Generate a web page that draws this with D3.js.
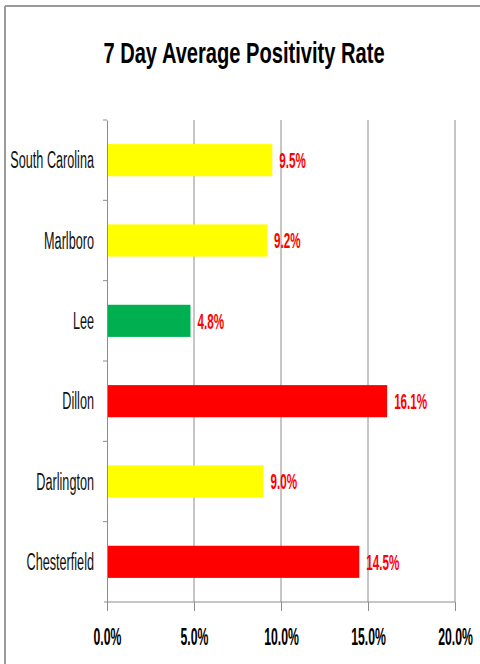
<!DOCTYPE html>
<html>
<head>
<meta charset="utf-8">
<script src="https://cdnjs.cloudflare.com/ajax/libs/d3/7.8.5/d3.min.js"></script>
<style>
  body { margin: 0; background: #fff; }
  svg text { font-family: "Liberation Sans", Arial, sans-serif; }
</style>
</head>
<body>
<div id="chart"></div>
<script>
// data
var counties = ["South Carolina", "Marlboro", "Lee", "Dillon", "Darlington", "Chesterfield"];
var rates = [9.5, 9.2, 4.8, 16.1, 9.0, 14.5];
var barColors = ["#ffff00", "#ffff00", "#00b050", "#ff0000", "#ffff00", "#ff0000"];
var xTicks = [0, 5, 10, 15, 20];

var W = 480, H = 664;
var margin = {top: 120, right: 25, bottom: 62, left: 107},
    width = W - margin.left - margin.right,
    height = H - margin.top - margin.bottom;

// the original picture is squeezed sideways, so texts get narrowed
function squash(sel, k) {
    sel.each(function() {
        var len = this.getComputedTextLength();
        d3.select(this)
            .attr("textLength", len * k)
            .attr("lengthAdjust", "spacingAndGlyphs");
    });
}

var svg = d3.select("#chart").append("svg")
    .attr("width", W)
    .attr("height", H);

// outer frame (only top and left edges are visible in the shot)
svg.append("line").attr("x1", 5).attr("y1", 6).attr("x2", W).attr("y2", 6)
    .attr("stroke", "#9a9a9a").attr("stroke-width", 2);
svg.append("line").attr("x1", 5).attr("y1", 6).attr("x2", 5).attr("y2", H)
    .attr("stroke", "#9a9a9a").attr("stroke-width", 2);

svg.append("text")
    .attr("x", 244)
    .attr("y", 63)
    .attr("text-anchor", "middle")
    .style("font-size", "30px")
    .style("font-weight", "bold")
    .attr("fill", "#000")
    .text("7 Day Average Positivity Rate")
    .call(squash, 0.67);

var g = svg.append("g")
    .attr("transform", "translate(" + margin.left + "," + margin.top + ")");

var x = d3.scaleLinear().domain([0, 20]).range([0, width]);
var y = d3.scaleBand().domain(counties).range([0, height]).paddingInner(0.6).paddingOuter(0.3);

// vertical gridlines
g.selectAll(".grid")
    .data(xTicks.slice(1))
    .enter().append("line")
    .attr("class", "grid")
    .attr("x1", function(d) { return x(d); })
    .attr("x2", function(d) { return x(d); })
    .attr("y1", 0)
    .attr("y2", height)
    .attr("stroke", "#8c8c8c")
    .attr("stroke-width", 1);

// bars
g.selectAll(".bar")
    .data(rates)
    .enter().append("rect")
    .attr("class", "bar")
    .attr("x", x(0))
    .attr("y", function(d, i) { return y(counties[i]); })
    .attr("width", function(d) { return x(d) - x(0); })
    .attr("height", y.bandwidth())
    .attr("fill", function(d, i) { return barColors[i]; });

// value labels
g.selectAll(".val")
    .data(rates)
    .enter().append("text")
    .attr("class", "val")
    .attr("x", function(d) { return x(d) + 7; })
    .attr("y", function(d, i) { return y(counties[i]) + y.bandwidth() / 2; })
    .attr("dy", "0.36em")
    .attr("fill", "#ff0000")
    .style("font-size", "22px")
    .style("font-weight", "bold")
    .text(function(d) { return d.toFixed(1) + "%"; })
    .call(squash, 0.53);

// x axis
var xAxis = g.append("g")
    .attr("transform", "translate(0," + height + ")")
    .call(d3.axisBottom(x).tickValues(xTicks).tickSize(9).tickPadding(17)
        .tickFormat(function(d) { return d.toFixed(1) + "%"; }));
xAxis.select(".domain").attr("stroke", "#8c8c8c").attr("d", "M-3,0H" + width);
xAxis.selectAll(".tick line").attr("stroke", "#8c8c8c");
xAxis.selectAll("text")
    .style("font-size", "24px")
    .style("font-weight", "bold")
    .attr("fill", "#000")
    .call(squash, 0.51);

// y axis with tick marks between categories
var yAxis = g.append("g").call(d3.axisLeft(y).tickSize(0).tickPadding(13));
yAxis.select(".domain").attr("stroke", "#8c8c8c");
yAxis.selectAll("text")
    .style("font-size", "23px")
    .attr("dy", "0.36em")
    .attr("fill", "#111")
    .call(squash, 0.55);
yAxis.selectAll(".sep")
    .data(d3.range(counties.length))
    .enter().append("line")
    .attr("class", "sep")
    .attr("x1", -4).attr("x2", 0)
    .attr("y1", function(i) { return y.step() * i; })
    .attr("y2", function(i) { return y.step() * i; })
    .attr("stroke", "#8c8c8c");
</script>
</body>
</html>
